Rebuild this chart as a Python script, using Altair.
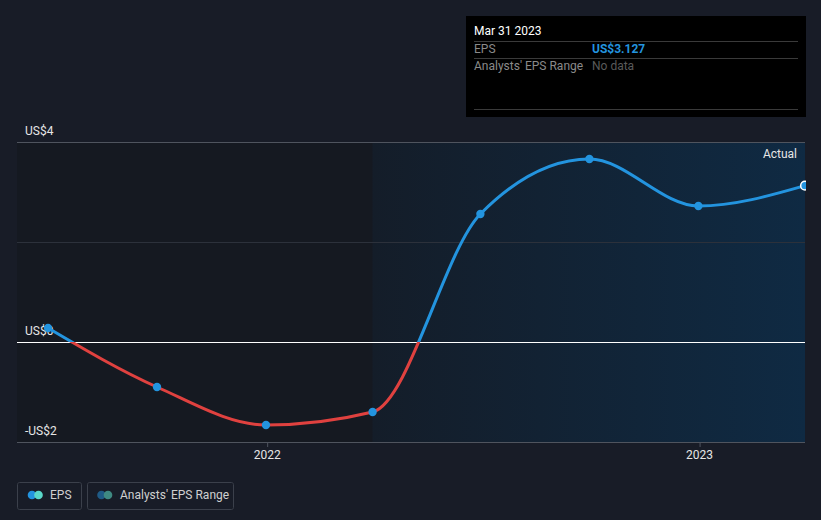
import altair as alt
import pandas as pd

# ---- data ----
dates = ["2021-06-30", "2021-09-30", "2021-12-31", "2022-03-31",
         "2022-06-30", "2022-09-30", "2022-12-31", "2023-03-31"]
eps = [0.28, -0.90, -1.66, -1.40, 2.56, 3.66, 2.72, 3.127]

y_tick_values = [4, 0, -2]
y_tick_labels = ["US$4", "US$0", "-US$2"]
x_tick_dates = ["2022-01-01", "2023-01-01"]
x_tick_labels = ["2022", "2023"]
actual_start = "2022-03-31"

tooltip_date = "Mar 31 2023"
tooltip_rows = ["EPS", "Analysts' EPS Range"]
tooltip_vals = ["US$3.127", "No data"]
legend_labels = ["EPS", "Analysts' EPS Range"]

BG = "#181c27"
BLUE = "#2394df"
RED = "#e0413f"
FONT = "Roboto"

df = pd.DataFrame({"date": pd.to_datetime(dates), "eps": eps})

xscale = alt.Scale(domain=[df["date"].min().isoformat(), df["date"].max().isoformat()],
                   range=[48, 805])
yscale = alt.Scale(domain=[-2, 4], range=[442, 142])
X = alt.X("date:T", scale=xscale, axis=None)
Y = alt.Y("eps:Q", scale=yscale, axis=None)

# background regions
left_region = alt.Chart(pd.DataFrame({"d": [actual_start]})).mark_rect(
    fill="#151921").encode(
    x=alt.X("d:T", scale=xscale, axis=None), x2=alt.value(17),
    y=alt.value(142), y2=alt.value(442))

right_region = alt.Chart(pd.DataFrame({"d": [actual_start], "e": [dates[-1]]})).mark_rect(
    fill=alt.LinearGradient(gradient="linear",
                            stops=[alt.GradientStop(color="#141d29", offset=0),
                                   alt.GradientStop(color="#0f2a43", offset=1)],
                            x1=0, x2=1, y1=0, y2=0)).encode(
    x=alt.X("d:T", scale=xscale, axis=None), x2="e:T",
    y=alt.value(142), y2=alt.value(442))

# gridlines
grid_edges = alt.Chart(pd.DataFrame({"v": [4, -2]})).mark_rule(
    color="#4f545e", strokeWidth=1, yOffset=0.5).encode(
    y=alt.Y("v:Q", scale=yscale, axis=None), x=alt.value(17), x2=alt.value(805))
grid_mid = alt.Chart(pd.DataFrame({"v": [2]})).mark_rule(
    color="#2c313b", strokeWidth=1, yOffset=0.5).encode(
    y=alt.Y("v:Q", scale=yscale, axis=None), x=alt.value(17), x2=alt.value(805))
zero_line = alt.Chart(pd.DataFrame({"v": [0]})).mark_rule(
    color="#ffffff", strokeWidth=1, yOffset=0.5).encode(
    y=alt.Y("v:Q", scale=yscale, axis=None), x=alt.value(17), x2=alt.value(805))

# y labels
ylab = alt.Chart(pd.DataFrame({"v": y_tick_values, "t": y_tick_labels})).mark_text(
    align="left", baseline="alphabetic", dy=-7, font=FONT, fontSize=12,
    color="#e6e6e6").encode(
    y=alt.Y("v:Q", scale=yscale, axis=None), x=alt.value(25), text="t:N")

# x ticks and labels
xt_df = pd.DataFrame({"d": pd.to_datetime(x_tick_dates), "t": x_tick_labels})
xticks = alt.Chart(xt_df).mark_rule(color="#4f545e", xOffset=0.5).encode(
    x=alt.X("d:T", scale=xscale, axis=None), y=alt.value(442), y2=alt.value(447))
xlab = alt.Chart(xt_df).mark_text(
    align="center", baseline="middle", font=FONT, fontSize=12,
    color="#e6e6e6").encode(
    x=alt.X("d:T", scale=xscale, axis=None), y=alt.value(455), text="t:N")

# line with sign-based colour
ymax, ymin = max(eps), min(eps)
zoff = ymax / (ymax - ymin)
line = alt.Chart(df).mark_line(
    interpolate="monotone", strokeWidth=3,
    stroke=alt.LinearGradient(gradient="linear",
                              stops=[alt.GradientStop(color=BLUE, offset=0),
                                     alt.GradientStop(color=BLUE, offset=zoff - 0.0005),
                                     alt.GradientStop(color=RED, offset=zoff + 0.0005),
                                     alt.GradientStop(color=RED, offset=1)],
                              x1=0, x2=0, y1=0, y2=1)).encode(x=X, y=Y)

points = alt.Chart(df.iloc[:-1]).mark_circle(size=70, color=BLUE, opacity=1).encode(x=X, y=Y)
last_point = alt.Chart(df.iloc[-1:]).mark_point(
    size=75, filled=True, fill=BLUE, stroke="#ffffff", strokeWidth=1.5, opacity=1).encode(x=X, y=Y)

# cover right of plot area (clip)
cover = alt.Chart(pd.DataFrame({"a": [0]})).mark_rect(fill=BG).encode(
    x=alt.value(806), x2=alt.value(821), y=alt.value(170), y2=alt.value(200))

actual_lbl = alt.Chart(pd.DataFrame({"t": ["Actual"]})).mark_text(
    align="right", baseline="middle", font=FONT, fontSize=12, color="#e6e6e6").encode(
    x=alt.value(797), y=alt.value(154), text="t:N")

# tooltip box
tip_box = alt.Chart(pd.DataFrame({"a": [0]})).mark_rect(fill="#000000").encode(
    x=alt.value(466), x2=alt.value(806), y=alt.value(16), y2=alt.value(117))
tip_lines = alt.Chart(pd.DataFrame({"yy": [41, 58, 109]})).mark_rule(
    color="#3a3a3a", yOffset=0.5).encode(
    y=alt.Y("yy:Q", scale=None), x=alt.value(474), x2=alt.value(798))
tip_title = alt.Chart(pd.DataFrame({"t": [tooltip_date]})).mark_text(
    align="left", baseline="middle", font=FONT, fontSize=12, color="#ffffff").encode(
    x=alt.value(474), y=alt.value(31), text="t:N")
tip_rows = alt.Chart(pd.DataFrame({"t": tooltip_rows, "yy": [49, 66]})).mark_text(
    align="left", baseline="middle", font=FONT, fontSize=12, color="#8a8a8a").encode(
    x=alt.value(474), y=alt.Y("yy:Q", scale=None), text="t:N")
tip_v1 = alt.Chart(pd.DataFrame({"t": tooltip_vals[:1]})).mark_text(
    align="left", baseline="middle", font=FONT, fontSize=12, fontWeight="bold",
    color=BLUE).encode(x=alt.value(592), y=alt.value(49), text="t:N")
tip_v2 = alt.Chart(pd.DataFrame({"t": tooltip_vals[1:]})).mark_text(
    align="left", baseline="middle", font=FONT, fontSize=12,
    color="#5a5a5a").encode(x=alt.value(592), y=alt.value(66), text="t:N")

# legend
leg_box1 = alt.Chart(pd.DataFrame({"a": [0]})).mark_rect(
    fill=BG, stroke="#3b404b", strokeWidth=1, cornerRadius=2).encode(
    x=alt.value(17.5), x2=alt.value(81.5), y=alt.value(482.5), y2=alt.value(509.5))
leg_box2 = alt.Chart(pd.DataFrame({"a": [0]})).mark_rect(
    fill=BG, stroke="#3b404b", strokeWidth=1, cornerRadius=2).encode(
    x=alt.value(87.5), x2=alt.value(233.5), y=alt.value(482.5), y2=alt.value(509.5))
leg_c1a = alt.Chart(pd.DataFrame({"a": [0]})).mark_circle(size=75, color=BLUE, opacity=1).encode(
    x=alt.value(32), y=alt.value(495))
leg_c1b = alt.Chart(pd.DataFrame({"a": [0]})).mark_circle(size=75, color="#5ad8c9", opacity=1).encode(
    x=alt.value(38.5), y=alt.value(495))
leg_c2a = alt.Chart(pd.DataFrame({"a": [0]})).mark_circle(size=75, color="#1f5b86", opacity=1).encode(
    x=alt.value(101.5), y=alt.value(495))
leg_c2b = alt.Chart(pd.DataFrame({"a": [0]})).mark_circle(size=75, color="#3f8a82", opacity=1).encode(
    x=alt.value(108), y=alt.value(495))
leg_txt = alt.Chart(pd.DataFrame({"t": legend_labels, "xx": [50, 120]})).mark_text(
    align="left", baseline="middle", font=FONT, fontSize=12, color="#d0d0d0").encode(
    x=alt.X("xx:Q", scale=None), y=alt.value(495), text="t:N")

chart = alt.layer(
    left_region, right_region, grid_edges, grid_mid, zero_line, ylab, xticks, xlab,
    line, points, last_point, cover, actual_lbl,
    tip_box, tip_lines, tip_title, tip_rows, tip_v1, tip_v2,
    leg_box1, leg_box2, leg_c1a, leg_c1b, leg_c2a, leg_c2b, leg_txt
).properties(
    width=821, height=520, background=BG, padding=0,
    autosize=alt.AutoSizeParams(type="none")
).configure_view(stroke=None)

chart.save("out.html", embed_options={"renderer": "svg", "actions": False})
